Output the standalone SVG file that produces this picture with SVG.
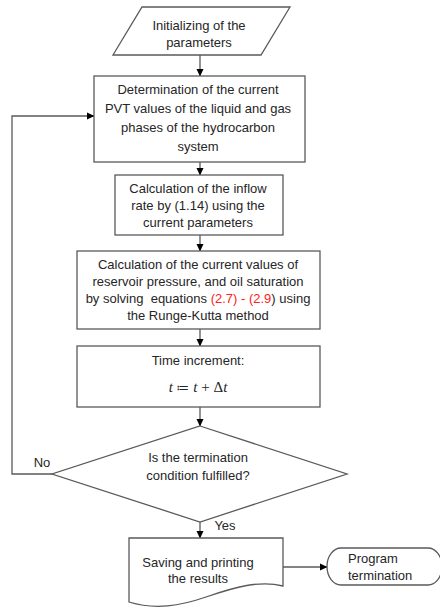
<svg xmlns="http://www.w3.org/2000/svg" width="440" height="609" viewBox="0 0 440 609">
<style>
.s{fill:#fff;stroke:#5a5a5a;stroke-width:1.3}
.t{font-family:"Liberation Sans",Arial,sans-serif;font-size:13px;fill:#262626;text-anchor:middle}
.l{text-anchor:start}
.c{fill:none;stroke:#5a5a5a;stroke-width:1.3}
.r{fill:#ff2020}
.m{font-family:"Liberation Serif","DejaVu Serif",serif;font-size:15px;fill:#262626;text-anchor:middle}
</style>
<defs>
<marker id="a" markerWidth="8" markerHeight="8" refX="7" refY="4" orient="auto" markerUnits="userSpaceOnUse">
<path d="M0,0.5 L7.5,4 L0,7.5 Z" fill="#000"/>
</marker>
</defs>
<g id="connectors">
<line class="c" x1="200" y1="55" x2="200" y2="76" marker-end="url(#a)"/>
<line class="c" x1="200" y1="162" x2="200" y2="175" marker-end="url(#a)"/>
<line class="c" x1="200" y1="235" x2="200" y2="251" marker-end="url(#a)"/>
<line class="c" x1="200" y1="329" x2="200" y2="346" marker-end="url(#a)"/>
<line class="c" x1="200" y1="407" x2="200" y2="426" marker-end="url(#a)"/>
<line class="c" x1="200" y1="522" x2="200" y2="538" marker-end="url(#a)"/>
<polyline class="c" points="52,474 12,474 12,116 94,116" marker-end="url(#a)"/>
<line class="c" x1="283" y1="567" x2="327" y2="567" marker-end="url(#a)"/>
<text class="t" x="42" y="467">No</text>
<text class="t" x="225" y="530">Yes</text>
</g>
<g id="init">
<polygon class="s" points="142,7 290,7 261,55 113,55"/>
<text class="t" x="199" y="30">Initializing of the</text>
<text class="t" x="199" y="47">parameters</text>
</g>
<g id="pvt">
<rect class="s" x="94" y="76" width="211" height="86"/>
<text class="t" x="198" y="94">Determination of the current</text>
<text class="t" x="198" y="113">PVT values of the liquid and gas</text>
<text class="t" x="198" y="132">phases of the hydrocarbon</text>
<text class="t" x="198" y="151">system</text>
</g>
<g id="inflow">
<rect class="s" x="115" y="175" width="168" height="60"/>
<text class="t" x="198" y="193">Calculation of the inflow</text>
<text class="t" x="198" y="210">rate by (1.14) using the</text>
<text class="t" x="198" y="227">current parameters</text>
</g>
<g id="rk">
<rect class="s" x="77" y="251" width="243" height="78"/>
<text class="t" x="198" y="269">Calculation of the current values of</text>
<text class="t" x="198" y="286">reservoir pressure, and oil saturation</text>
<text class="t" x="198" y="303" xml:space="preserve">by solving  equations <tspan class="r">(2.7) - (2.9</tspan>) using</text>
<text class="t" x="198" y="320">the Runge-Kutta method</text>
</g>
<g id="time">
<rect class="s" x="77" y="346" width="243" height="61"/>
<text class="t" x="198" y="365">Time increment:</text>
<text class="m" x="198" y="392"><tspan font-style="italic">t</tspan> <tspan font-family="DejaVu Sans" font-size="13">≔</tspan> <tspan font-style="italic">t</tspan> + Δ<tspan font-style="italic">t</tspan></text>
</g>
<g id="decision">
<polygon class="s" points="200,426 347,474 200,522 52,474"/>
<text class="t" x="198" y="462">Is the termination</text>
<text class="t" x="198" y="480">condition fulfilled?</text>
</g>
<g id="save">
<path class="s" d="M129,538 H283 V586 C260,580 235,587 206,597 C180,606 155,610 129,602 Z"/>
<text class="t" x="198" y="567">Saving and printing</text>
<text class="t" x="198" y="583">the results</text>
</g>
<g id="end">
<path class="s" d="M341,548 H428 A14,18.5 0 0 1 428,585 H341 A14,18.5 0 0 1 341,548 Z"/>
<text class="t l" x="348" y="563">Program</text>
<text class="t l" x="348" y="580">termination</text>
</g>
</svg>
